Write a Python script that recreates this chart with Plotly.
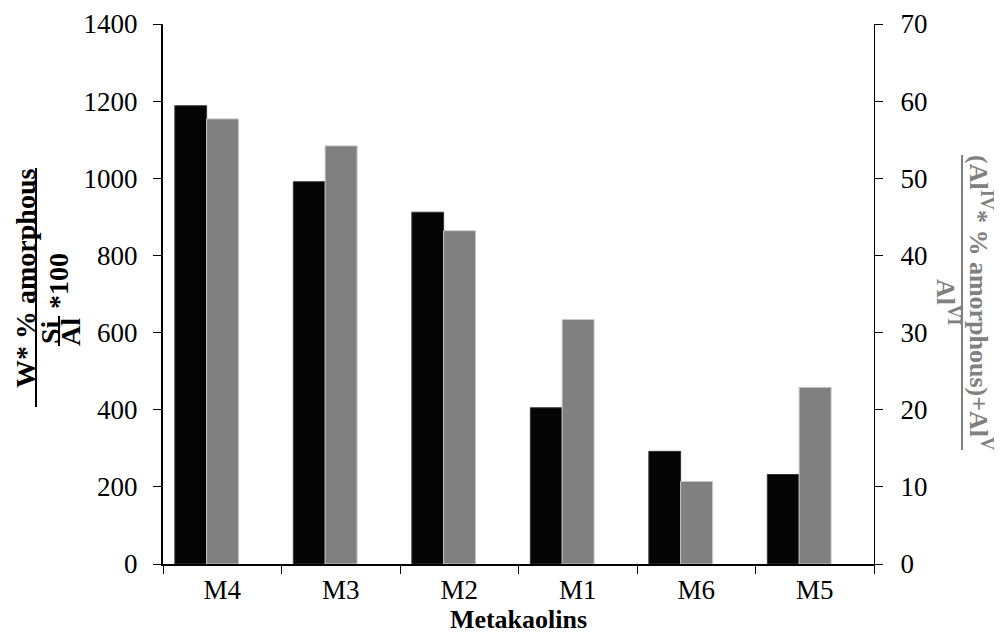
import plotly.graph_objects as go

categories = ["M4", "M3", "M2", "M1", "M6", "M5"]
left_values = [1188, 991, 912, 405, 292, 232]          # W*%amorphous/(Si/Al)*100
right_values = [57.7, 54.2, 43.2, 31.7, 10.7, 22.9]    # (AlIV*%amorphous)+AlV / AlVI
left_ticks = [0, 200, 400, 600, 800, 1000, 1200, 1400]
right_ticks = [0, 10, 20, 30, 40, 50, 60, 70]

OFF = 8                      # page body margin
W, H = 994, 631              # figure size
L, R, T, B = 163, 874, 24, 564   # plot area in screen pixels
FONT = "Liberation Serif"
GREY = "#808080"


def px(x):
    return (x - L) / (R - L)


def py(y):
    return (B - y) / (B - T)


fig = go.Figure()
fig.add_trace(go.Bar(
    x=categories, y=left_values, yaxis="y",
    offset=-0.40, width=0.268,
    marker=dict(color="#050505", line=dict(color="#333333", width=1)),
    showlegend=False,
))
fig.add_trace(go.Bar(
    x=categories, y=right_values, yaxis="y2",
    offset=-0.132, width=0.27,
    marker=dict(color=GREY, line=dict(color="#c8c8c8", width=1)),
    showlegend=False,
))

tickfont = dict(family=FONT, size=27, color="black")

fig.update_layout(
    width=W, height=H,
    margin=dict(l=L - OFF, r=W - (R - OFF), t=T - OFF, b=H - (B - OFF), autoexpand=False),
    paper_bgcolor="white", plot_bgcolor="white",
    barmode="overlay",
    font=dict(family=FONT, size=27, color="black"),
    xaxis=dict(
        type="category", categoryorder="array", categoryarray=categories,
        range=[-0.5, 5.5], automargin=False,
        showline=True, linecolor="black", linewidth=1.5,
        ticks="outside", tickson="boundaries", ticklen=8, tickcolor="black", tickwidth=1,
        tickfont=tickfont, showgrid=False, zeroline=False,
        ticklabelstandoff=1,
        title=dict(text="<b>Metakaolins</b>", font=dict(family=FONT, size=26, color="black"), standoff=4),
    ),
    yaxis=dict(
        range=[0, 1400], tickvals=left_ticks, ticktext=[str(v) for v in left_ticks],
        automargin=False,
        showline=True, linecolor="black", linewidth=2,
        ticks="outside", ticklen=8, tickcolor="black", tickwidth=1,
        tickfont=tickfont, showgrid=False, zeroline=False,
        ticklabelstandoff=10,
    ),
    yaxis2=dict(
        range=[0, 70], tickvals=right_ticks, ticktext=[str(v) for v in right_ticks],
        overlaying="y", side="right", anchor="x", automargin=False,
        showline=True, linecolor="black", linewidth=1,
        ticks="outside", ticklen=8, tickcolor="black", tickwidth=1,
        tickfont=tickfont, showgrid=False, zeroline=False,
        ticklabelstandoff=12,
    ),
)

tf = dict(family=FONT, size=28, color="black")
tfg = dict(family=FONT, size=26, color=GREY)

annotations = [
    # left title: W* % amorphous / ((Si/Al)*100)
    dict(text="<b>W* % amorphous</b>", x=px(25), y=py(279), textangle=-90, font=tf),
    dict(text="<b>Si</b>", x=px(50), y=py(332), textangle=-90, font=tf),
    dict(text="<b>Al</b>", x=px(70), y=py(332), textangle=-90, font=tf),
    dict(text="<b>*100</b>", x=px(58), y=py(281), textangle=-90, font=tf),
    # right title
    dict(text="<b>(Al<sup>IV</sup>* % amorphous)+Al<sup>V</sup></b>", x=px(981), y=py(302),
         textangle=90, font=tfg),
    dict(text="<b>Al<sup>VI</sup></b>", x=px(948), y=py(302), textangle=90, font=tfg),
]
for a in annotations:
    a.update(xref="paper", yref="paper", xanchor="center", yanchor="middle", showarrow=False)
fig.update_layout(annotations=annotations)

shapes = [
    dict(type="line", x0=px(36), x1=px(36), y0=py(168), y1=py(407), line=dict(color="black", width=2)),
    dict(type="line", x0=px(59), x1=px(59), y0=py(316), y1=py(346), line=dict(color="black", width=2)),
    dict(type="line", x0=px(962), x1=px(962), y0=py(155), y1=py(450), line=dict(color=GREY, width=2)),
]
for s in shapes:
    s.update(xref="paper", yref="paper")
fig.update_layout(shapes=shapes)

fig.write_html("out.html")
